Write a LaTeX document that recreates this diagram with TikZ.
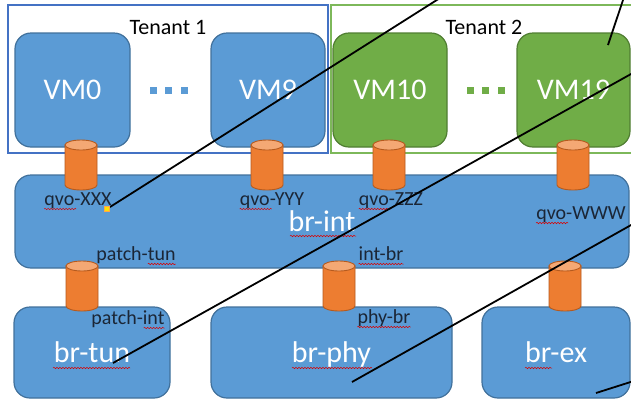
\documentclass[tikz,border=0pt]{standalone}
\usepackage{fontspec}
\setmainfont{Carlito}
\usetikzlibrary{decorations.pathmorphing}

\definecolor{vmblue}{HTML}{5B9BD5}
\definecolor{vmblueline}{HTML}{41719C}
\definecolor{vmgreen}{HTML}{70AD47}
\definecolor{vmgreenline}{HTML}{507E32}
\definecolor{portorange}{HTML}{ED7D31}
\definecolor{portline}{HTML}{B55A1E}
\definecolor{porttop}{HTML}{F4A874}
\definecolor{tenantblue}{HTML}{4472C4}
\definecolor{tenantgreen}{HTML}{7DB85A}
\definecolor{labelink}{HTML}{1B2636}

\tikzset{
  vmbox/.style={draw=vmblueline, fill=vmblue, line width=1.2pt, rounded corners=16pt,
    text=white, font=\fontsize{30}{30}\selectfont, minimum height=114pt, inner sep=0pt},
  greenvm/.style={vmbox, draw=vmgreenline, fill=vmgreen},
  bridge/.style={vmbox, text depth=0pt},
  pics/port/.style={code={
    \draw[portline, line width=0.9pt, fill=portorange] (-16pt,20pt) -- (-16pt,-20pt)
      arc[start angle=180, end angle=360, x radius=16pt, y radius=5pt] -- (16pt,20pt) -- cycle;
    \draw[portline, line width=0.9pt, fill=porttop] (0pt,20pt) ellipse [x radius=16pt, y radius=5pt];
  }},
  portname/.style={text=labelink, font=\fontsize{20}{20}\selectfont, anchor=base, inner sep=0pt},
  tenantname/.style={text=black, font=\fontsize{22}{22}\selectfont, inner sep=0pt},
  spellmark/.style={draw=red!85!black, line width=0.5pt, decorate,
    decoration={snake, amplitude=0.7pt, segment length=3pt}},
  note/.style={line width=1.8pt, black},
}

\begin{document}
\begin{tikzpicture}[x=1pt, y=-1pt]

\clip (0,0) rectangle (631,400);
\fill[white] (0,0) rectangle (631,400);

% tenants
\draw[tenantblue, line width=1.2pt] (8,5) rectangle (328,153);
\draw[tenantgreen, line width=1.2pt] (331,5) rectangle (640,153);
\node[tenantname] (tenant1) at (168,27) {Tenant 1};
\node[tenantname] (tenant2) at (484,27) {Tenant 2};

\node[vmbox, minimum width=115pt] (vm0) at (72.5,90) {VM0};
\node[vmbox, minimum width=114pt] (vm9) at (268,90) {VM9};
\node[greenvm, minimum width=114pt] (vm10) at (390,90) {VM10};
\node[greenvm, minimum width=113pt] (vm19) at (573.5,90) {VM19};

\foreach \x in {153.5, 168.5, 184}
  \fill[vmblue] (\x-3.5,86.5) rectangle ++(7,7);
\foreach \x in {470, 485, 501}
  \fill[vmgreen] (\x-3.5,86.5) rectangle ++(7,7);

% bridges
\node[bridge, minimum width=614pt, minimum height=93pt] (brint) at (322,221.5) {br-int};
\node[bridge, minimum width=156pt, minimum height=91pt] (brtun) at (92,352.5) {br-tun};
\node[bridge, minimum width=241pt, minimum height=91pt] (brphy) at (331.5,352.5) {br-phy};
\node[bridge, minimum width=148pt, minimum height=91pt] (brex) at (556,352.5) {br-ex};

% ports
\foreach \p/\x/\y in {qx/81/165, qy/267/165, qz/389/165, qw/573/165,
                      ptun/82/286, pphy/339/286, pex/565/286}
  \pic (\p) at (\x,\y) {port};

\node[portname] (lqx) at (78,205) {qvo-XXX};
\node[portname] (lqy) at (272,205) {qvo-YYY};
\node[portname] (lqz) at (391,205) {qvo-ZZZ};
\node[portname] (lqw) at (581,219) {qvo-WWW};
\node[portname] (lptun) at (136,260) {patch-tun};
\node[portname] (lintbr) at (381,260) {int-br};
\node[portname] (lpint) at (128,324) {patch-int};
\node[portname] (lphybr) at (384,323) {phy-br};

% spelling marks
\foreach \n in {lqx, lqy, lqz, lqw}
  \draw[spellmark] ([yshift=-4pt]\n.base west) -- ++(32,0);
\draw[spellmark] ([yshift=-4pt,xshift=-28pt]lptun.base east) -- ([yshift=-4pt]lptun.base east);
\draw[spellmark] ([yshift=-4pt]lintbr.base west) -- ([yshift=-4pt]lintbr.base east);
\draw[spellmark] ([yshift=-4pt,xshift=-21pt]lpint.base east) -- ([yshift=-4pt]lpint.base east);
\draw[spellmark] ([yshift=-4pt]lphybr.base west) -- ([yshift=-4pt]lphybr.base east);
\draw[spellmark] (290,236) -- (356,236);
\draw[spellmark] (53,368) -- (130,368);
\draw[spellmark] (292,368) -- (372,368);
\draw[spellmark] (525,368) -- (552,368);

% drawn over the picture
\draw[note] (110,207) -- (440,-2);
\draw[note] (113,363) -- (640,69);
\draw[note] (352,382) -- (640,220);
\draw[note] (608,45) -- (623.7,-2);
\draw[note] (596,393) -- (640,379);
\filldraw[fill=yellow!85!orange, draw=orange!70, line width=0.3pt] (104.5,206.5) rectangle ++(5,5);

\end{tikzpicture}
\end{document}
